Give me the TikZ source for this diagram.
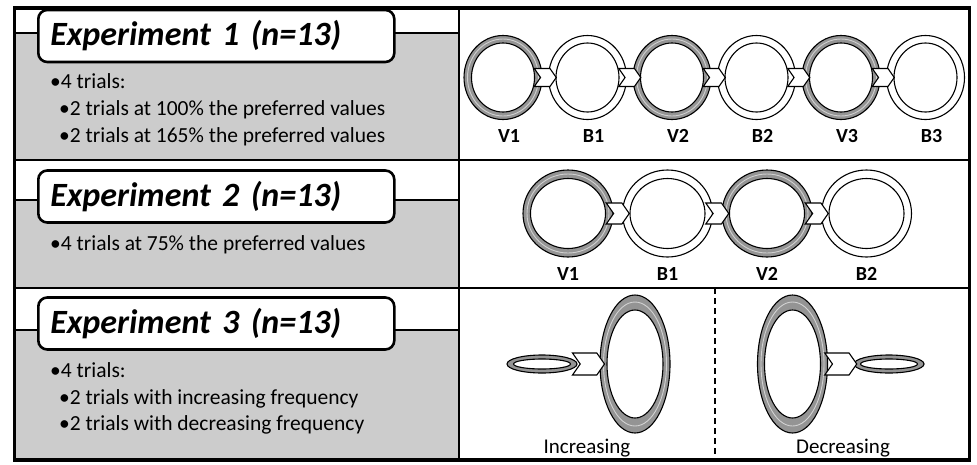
\documentclass[tikz,border=0pt]{standalone}
\usepackage{fontspec}
\setmainfont{Carlito}
\usetikzlibrary{shapes.geometric,shapes.symbols,calc,positioning}

\definecolor{vgray}{gray}{0.58}
\definecolor{panelgray}{gray}{0.8}

\begin{document}
\begin{tikzpicture}[x=1pt,y=-1pt,
	ring node/.style={ellipse,draw,line width=1.1pt,inner sep=0pt},
	mid node/.style={ellipse,line width=0.9pt,inner sep=0pt},
	chevron node/.style={signal,signal to=east,signal from=west,signal pointer angle=110,draw,fill=white,line width=1.1pt,inner sep=0pt},
	title node/.style={draw,rounded corners=9pt,line width=2.6pt,fill=white,anchor=west,minimum height=52pt,text width=332pt,inner xsep=12pt,align=left,font=\fontsize{34}{34}\selectfont\bfseries\itshape},
	text node/.style={anchor=base west,inner sep=0pt,font=\fontsize{21.5}{21.5}\selectfont},
	lbl node/.style={anchor=base,inner sep=0pt,font=\fontsize{20}{20}\selectfont\bfseries},
	divider/.style={line width=2.6pt}]

	\useasboundingbox (0,0) rectangle (977,464);

	% left column
	\fill[panelgray] (14.5,33) rectangle (459,160);
	\fill[panelgray] (14.5,200) rectangle (459,288);
	\fill[panelgray] (14.5,330) rectangle (459,460);
	\draw[divider] (14.5,33) -- (459,33);
	\draw[divider] (14.5,200) -- (459,200);
	\draw[divider] (14.5,330) -- (459,330);

	\draw[divider] (14.5,160) -- (969.5,160);
	\draw[divider] (14.5,288) -- (969.5,288);
	\draw[divider] (459,8) -- (459,460);
	\draw[line width=3.2pt] (14.5,8) rectangle (969.5,460);

	\node[title node] (t1) at (37,36) {Experiment 1 (n=13)};
	\node[title node] (t2) at (37,196.5) {Experiment 2 (n=13)};
	\node[title node] (t3) at (37,323.5) {Experiment 3 (n=13)};

	\node[text node] (e1a) at (50,88) {•4 trials:};
	\node[text node] (e1b) at (59,115) {•2 trials at 100\% the preferred values};
	\node[text node] (e1c) at (59,142) {•2 trials at 165\% the preferred values};
	\node[text node] (e2a) at (50,250) {•4 trials at 75\% the preferred values};
	\node[text node] (e3a) at (50,377) {•4 trials:};
	\node[text node] (e3b) at (59,404) {•2 trials with increasing frequency};
	\node[text node] (e3c) at (59,430) {•2 trials with decreasing frequency};

	% experiment 1
	\foreach \lab/\col [count=\i from 0] in {V1/vgray,B1/white,V2/vgray,B2/white,V3/vgray,B3/white}{
		\node[ring node,fill=\col,minimum width=78pt,minimum height=84pt] (r\i) at (503+84.5*\i,77.5) {};
		\node[mid node,draw=\col!45!white,minimum width=71pt,minimum height=77pt] at (r\i) {};
		\node[ring node,fill=white,minimum width=63pt,minimum height=69pt] at (r\i) {};
		\node[lbl node] at (509+84.5*\i,142) {\lab};
	}
	\foreach \i [evaluate=\i as \j using int(\i+1)] in {0,...,4}
		\node[chevron node,minimum width=22pt,minimum height=18pt] at ($(r\i)!0.5!(r\j)$) {};

	% experiment 2
	\foreach \lab/\col [count=\i from 0] in {V1/vgray,B1/white,V2/vgray,B2/white}{
		\node[ring node,fill=\col,minimum width=90pt,minimum height=87pt] (s\i) at (568+99.5*\i,213.5) {};
		\node[mid node,draw=\col!45!white,minimum width=82pt,minimum height=79pt] at (s\i) {};
		\node[ring node,fill=white,minimum width=75pt,minimum height=70pt] at (s\i) {};
		\node[lbl node] at (568+99.5*\i,280) {\lab};
	}
	\foreach \i [evaluate=\i as \j using int(\i+1)] in {0,...,2}
		\node[chevron node,minimum width=23pt,minimum height=21pt] at ($(s\i)!0.5!(s\j)$) {};

	% experiment 3
	\foreach \name/\x/\sx in {inc/635/542,dec/792.5/889}{
		\node[ring node,fill=vgray,minimum width=70pt,minimum height=138pt] (\name) at (\x,364) {};
		\node[mid node,draw=gray!35,minimum width=63pt,minimum height=124pt] at (\name) {};
		\node[ring node,fill=white,minimum width=56pt,minimum height=108pt] at (\name) {};
		\node[ring node,fill=vgray,minimum width=70pt,minimum height=18pt] (\name s) at (\sx,364) {};
		\node[ring node,fill=white,minimum width=57pt,minimum height=10pt] at (\name s) {};
	}
	\node[chevron node,minimum width=32pt,minimum height=22pt] at ($(incs)!0.5!(inc)$) {};
	\node[chevron node,minimum width=32pt,minimum height=22pt] at ($(dec)!0.5!(decs)$) {};

	\draw[line width=1.3pt,dash pattern=on 6pt off 4pt] (715,288) -- (715,460);
	\node[anchor=base,font=\fontsize{21}{21}\selectfont] (li) at (587,453) {Increasing};
	\node[anchor=base,font=\fontsize{21}{21}\selectfont] (ld) at (843,453) {Decreasing};
\end{tikzpicture}
\end{document}
